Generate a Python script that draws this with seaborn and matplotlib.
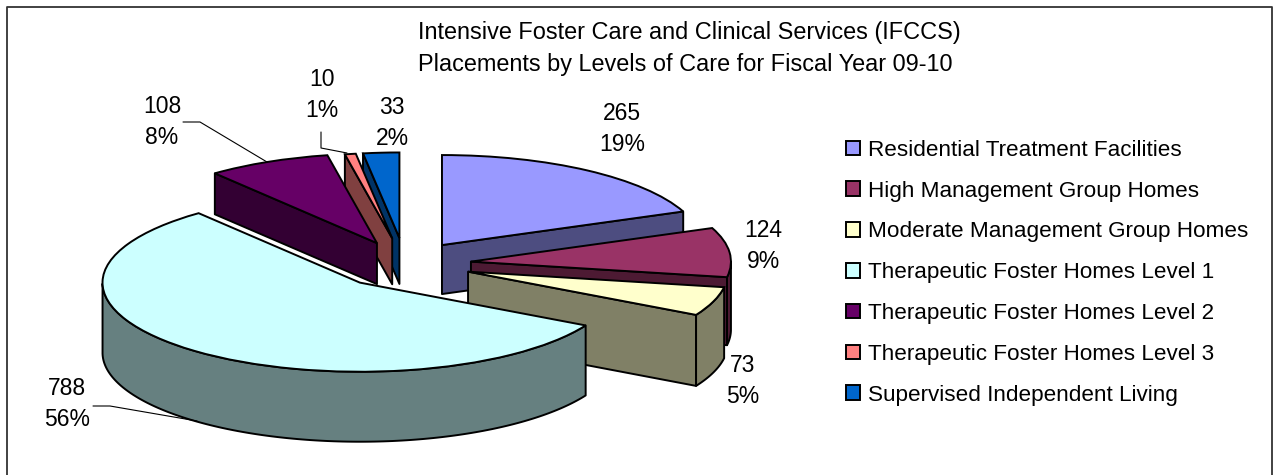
import numpy as np
import seaborn as sns
import matplotlib.pyplot as plt
from matplotlib.lines import Line2D
from matplotlib.patches import Patch

# === Data ===
categories = [
    "Residential Treatment Facilities",
    "High Management Group Homes",
    "Moderate Management Group Homes",
    "Therapeutic Foster Homes Level 1",
    "Therapeutic Foster Homes Level 2",
    "Therapeutic Foster Homes Level 3",
    "Supervised Independent Living",
]
placements = [265, 124, 73, 788, 108, 10, 33]
percent_labels = ["19%", "9%", "5%", "56%", "8%", "1%", "2%"]
colors = ["#9999FF", "#993366", "#FFFFCC", "#CCFFFF", "#660066", "#FF8080", "#0066CC"]
title_lines = [
    "Intensive Foster Care and Clinical Services (IFCCS)",
    "Placements by Levels of Care for Fiscal Year 09-10",
]

# === Layout (reference pixels) ===
W, H = 1273, 475
rx, ry = 260, 90
cx, cy = 405, 264
explode = [0.254, 0.255, 0.257, 0.27, 0.256, 0.29, 0.29]
radii = [1, 1, 1, 0.99, 0.995, 0.95, 0.95]  # back slices look smaller in the original's perspective
depths = [49, 68, 71, 70, 41, 46, 46]
draw_order = [6, 5, 4, 0, 1, 2, 3]  # back to front
label_pos = [(622, 129), (763, 246), (743, 381), (67, 404), (162, 122), (322, 95), (392, 123)]
leaders = [
    [(183, 122), (200, 122), (267, 162)],
    [(321, 132), (321, 148), (347, 153)],
    [(93, 406), (110, 406), (197, 421)],
]

sns.set_theme(style="white")
plt.rcParams["font.family"] = ["Liberation Sans", "DejaVu Sans"]


def fx(x):
    return x / W


def fy(y):
    return 1 - y / H


fig = plt.figure(figsize=(W / 100, H / 100), dpi=100, facecolor="white")
ax = fig.add_axes([0, 0, 1, 1])

wedges, _ = ax.pie(placements, explode=explode, colors=colors, startangle=90, counterclock=False,
                   wedgeprops={"edgecolor": "black", "linewidth": 1.4})
ax.set_aspect("auto")
ax.set_xlim(-cx / rx, (W - cx) / rx)
ax.set_ylim(-(H - cy) / ry, cy / ry)


def draw_side(xs, ys, depth, color, z):
    # extrude an edge of the top face straight down
    d = depth / ry
    px = np.concatenate([xs, xs[::-1]])
    py = np.concatenate([ys, ys[::-1] - d])
    ax.fill(px, py, facecolor=color, edgecolor="black", linewidth=1.4, joinstyle="round", zorder=z)


# stack slices back to front, walls under their own top face
for rank, i in enumerate(draw_order):
    w = wedges[i]
    w.set_radius(radii[i])
    (x0, y0), t1, t2, r = w.center, w.theta1, w.theta2, w.r
    side = tuple(0.5 * c for c in sns.color_palette([colors[i]])[0])
    z = 2 + rank * 2
    if np.cos(np.radians(t1)) > 1e-6:
        a = np.radians(t1)
        draw_side(np.array([x0, x0 + r * np.cos(a)]), np.array([y0, y0 + r * np.sin(a)]), depths[i], side, z)
    if np.cos(np.radians(t2)) < -1e-6:
        a = np.radians(t2)
        draw_side(np.array([x0, x0 + r * np.cos(a)]), np.array([y0, y0 + r * np.sin(a)]), depths[i], side, z)
    arc = np.radians(np.linspace(t1, t2, 200))
    arc = arc[np.sin(arc) < 0]
    if len(arc):
        draw_side(x0 + r * np.cos(arc), y0 + r * np.sin(arc), depths[i], side, z)
    w.set_zorder(z + 1)

# data labels
for value, pct, (x, y) in zip(placements, percent_labels, label_pos):
    fig.text(fx(x), fy(y), f"{value}\n{pct}", ha="center", va="center", fontsize=16.5,
             linespacing=1.45, color="black")

for pts in leaders:
    fig.add_artist(Line2D([fx(p[0]) for p in pts], [fy(p[1]) for p in pts], color="black", linewidth=0.8))

# title
for line, y in zip(title_lines, [33, 64]):
    fig.text(fx(418), fy(y), line, ha="left", va="center", fontsize=16.9, color="black")

# legend
handles = [Patch(facecolor=c, edgecolor="black", linewidth=1.4) for c in colors]
fig.legend(handles, categories, loc="upper left", bbox_to_anchor=(fx(839), fy(133)), frameon=False,
           fontsize=16.2, handlelength=0.62, handleheight=0.62, handletextpad=0.36,
           labelspacing=0.88, borderpad=0.3, borderaxespad=0, labelcolor="black")

# chart frame, open at the bottom
fig.add_artist(Line2D([fx(6.5), fx(6.5), fx(1271.5), fx(1271.5)], [fy(H), fy(6.5), fy(6.5), fy(H)],
                      color="#333333", linewidth=1.3))

plt.savefig("out.png", dpi=100)
